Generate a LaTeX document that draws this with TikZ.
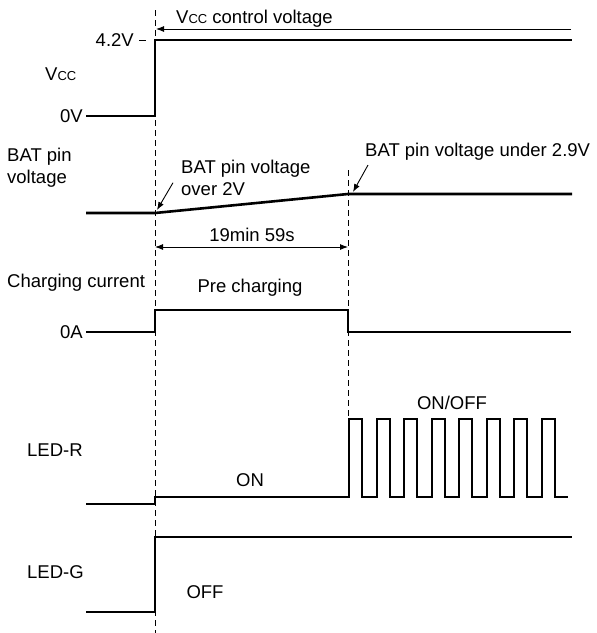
\documentclass[tikz,border=0pt]{standalone}
\usepackage{fontspec}
\setmainfont{Liberation Sans}
\usetikzlibrary{arrows.meta}
\newcommand{\Vsupply}{V{\fontsize{13}{15}\selectfont CC}}

\begin{document}
\begin{tikzpicture}[x=1pt,y=-1pt,
  wave/.style={line width=2.6pt},
  pulse/.style={line width=2pt},
  guide/.style={line width=0.9pt,dash pattern=on 6pt off 4pt},
  lbl/.style={inner sep=0pt,font=\fontsize{18.5}{21.5}\selectfont},
  note/.style={-{Latex[length=8pt,width=6pt]},line width=0.9pt}]
\useasboundingbox (0,0) rectangle (597,633);
% time markers
\draw[guide] (155,10) -- (155,633);
\draw[guide] (348,170) -- (348,419);
% Vcc
\node[lbl,anchor=east] (v42) at (134,40) {4.2V};
\node[lbl,anchor=east] (v0) at (83,116) {0V};
\node[lbl,anchor=base west] (vcc) at (45,80) {\Vsupply};
\draw[line width=0.9pt] (139,40) -- (146,40);
\draw[wave] (86,116) -- (155,116) -- (155,40) -- (572,40);
\node[lbl,anchor=base west] (ctl) at (176,23) {\Vsupply{} control voltage};
\coordinate (ctlr) at (571,29);
\coordinate (ctll) at (156,29);
\draw[note] (ctlr) -- (ctll);
% BAT pin
\node[lbl,anchor=north west,align=left] (bat) at (7,148) {BAT pin\\voltage};
\draw[wave] (86,213) -- (155,213) -- (348,194) -- (572,194);
\coordinate (b0) at (157,210);
\coordinate (b1) at (353,192);
\node[lbl,anchor=north west,align=left] (over) at (181,160) {BAT pin voltage\\over 2V};
\node[lbl,anchor=base west] (under) at (365,156) {BAT pin voltage under 2.9V};
\draw[note] ([shift={(-8,5)}]over.west) -- (b0);
\draw[note] ([shift={(3,5)}]under.south west) -- (b1);
\coordinate (d0) at (155,247);
\coordinate (d1) at (348,247);
\node[lbl,anchor=base] (dur) at (252,241) {19min 59s};
\draw[{Latex[length=8pt,width=6pt]}-{Latex[length=8pt,width=6pt]},line width=0.9pt] (d0) -- (d1);
% charging current
\node[lbl,anchor=base west] (chg) at (7,287) {Charging current};
\node[lbl,anchor=base] (pre) at (250,292) {Pre charging};
\node[lbl,anchor=east] (a0) at (83,332) {0A};
\draw[wave] (86,332) -- (155,332) -- (155,310) -- (348,310) -- (348,332) -- (571,332);
% LED-R
\node[lbl,anchor=west] (ledr) at (27,450) {LED-R};
\node[lbl,anchor=base] (on) at (250,486) {ON};
\node[lbl,anchor=base] (onoff) at (452,409) {ON/OFF};
\draw[wave] (86,504) -- (155,504) -- (155,497) -- (348,497);
\draw[pulse] (347,497)
  \foreach \k in {0,...,7} {
   -- ({349+27.5*\k},497) -- ({349+27.5*\k},419)
   -- ({362+27.5*\k},419) -- ({362+27.5*\k},497)
  } -- (568,497);
% LED-G
\node[lbl,anchor=west] (ledg) at (27,572) {LED-G};
\node[lbl,anchor=base] (off) at (205,598) {OFF};
\draw[wave] (86,612) -- (155,612) -- (155,537) -- (572,537);
\end{tikzpicture}
\end{document}
